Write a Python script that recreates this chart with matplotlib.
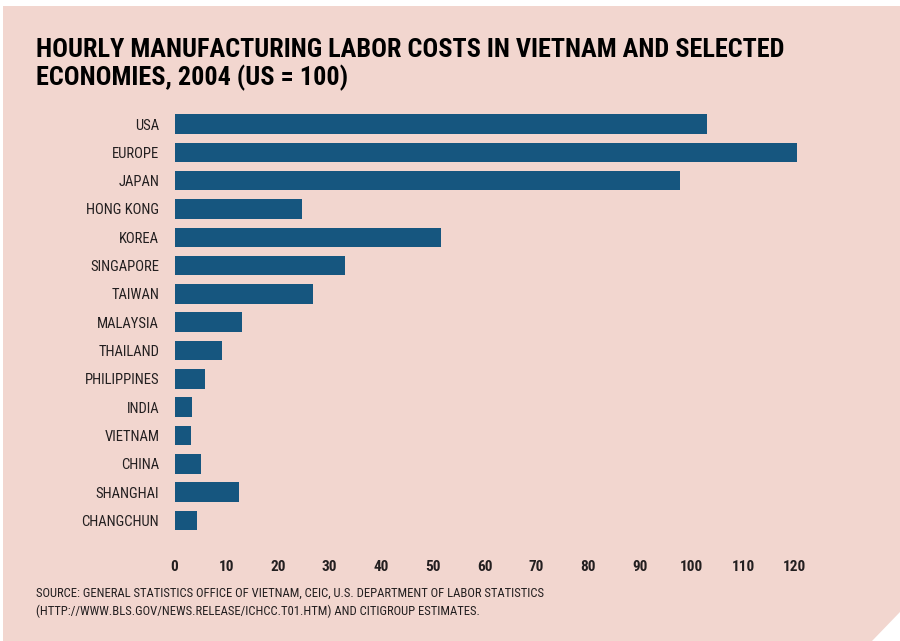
import matplotlib
matplotlib.use("Agg")
import matplotlib.pyplot as plt
from matplotlib.patches import Polygon
from matplotlib import font_manager

categories = ["USA", "EUROPE", "JAPAN", "HONG KONG", "KOREA", "SINGAPORE", "TAIWAN",
              "MALAYSIA", "THAILAND", "PHILIPPINES", "INDIA", "VIETNAM", "CHINA",
              "SHANGHAI", "CHANGCHUN"]
values = [103.0, 120.4, 97.8, 24.7, 51.5, 33.0, 26.8, 13.1, 9.2, 5.9, 3.4, 3.2, 5.1, 12.5, 4.3]
xticks = [0, 10, 20, 30, 40, 50, 60, 70, 80, 90, 100, 110, 120]

title_lines = ["HOURLY MANUFACTURING LABOR COSTS IN VIETNAM AND SELECTED",
               "ECONOMIES, 2004 (US = 100)"]
source_lines = ["SOURCE: GENERAL STATISTICS OFFICE OF VIETNAM, CEIC, U.S. DEPARTMENT OF LABOR STATISTICS",
                "(HTTP://WWW.BLS.GOV/NEWS.RELEASE/ICHCC.T01.HTM) AND CITIGROUP ESTIMATES."]

BG = "#f2d6cf"
BAR = "#16567f"
TXT = "#231f20"
W, H = 900, 641

# choose a narrow font if available
names = {f.name for f in font_manager.fontManager.ttflist}
stretches = {(f.name, f.stretch) for f in font_manager.fontManager.ttflist}
FONT = "Roboto"
STRETCH = "normal"
for cand in ["Liberation Sans Narrow", "Roboto Condensed", "Open Sans Condensed"]:
    if cand in names:
        FONT = cand
        break
else:
    if any(n == "DejaVu Sans" and s != "normal" and s != 500 for n, s in stretches):
        FONT = "DejaVu Sans"
        STRETCH = "condensed"

fig = plt.figure(figsize=(9, 6.41), dpi=100)
fig.patch.set_facecolor("white")

def fx(x):
    return x / W

def fy(y):
    return 1 - y / H

panel = Polygon([(fx(3), fy(6)), (fx(900), fy(6)), (fx(900), fy(612)), (fx(872), fy(641)),
                 (fx(3), fy(641))], closed=True, transform=fig.transFigure,
                facecolor=BG, edgecolor="none", zorder=-5)
fig.patches.append(panel)

left_px, right_px = 174.5, 174.5 + 125 * 5.17
top_px, bot_px = 124 - 14.15, 520.5 + 14.15
ax = fig.add_axes([fx(left_px), fy(bot_px), (right_px - left_px) / W, (bot_px - top_px) / H])
ax.set_facecolor("none")
pos = list(range(len(categories)))
ax.barh(pos, values, height=0.69, color=BAR)
ax.set_xlim(0, 125)
ax.set_ylim(len(categories) - 0.5, -0.5)
ax.set_yticks(pos)
ax.set_yticklabels(categories, fontfamily=FONT, fontstretch=STRETCH, fontsize=10.5, color=TXT)
ax.set_xticks(xticks)
ax.set_xticklabels([str(t) for t in xticks], fontfamily=FONT, fontstretch=STRETCH,
                   fontweight="bold", fontsize=11, color=TXT)
ax.tick_params(axis="y", length=0, pad=11)
ax.tick_params(axis="x", length=0, pad=18)
for s in ax.spines.values():
    s.set_visible(False)

renderer = fig.canvas.get_renderer()

def fit_text(x, y_base, s, target_w, weight, fs0, color):
    t = fig.text(fx(x), fy(y_base), s, fontfamily=FONT, fontstretch=STRETCH, fontweight=weight,
                 fontsize=fs0, color=color, va="baseline", ha="left")
    w = t.get_window_extent(renderer).width
    t.set_fontsize(fs0 * target_w / w)
    return t

t1 = fit_text(36, 57, title_lines[0], 751, "bold", 20, "black")
fs_title = t1.get_fontsize()
fig.text(fx(36), fy(85), title_lines[1], fontfamily=FONT, fontstretch=STRETCH, fontweight="bold",
         fontsize=fs_title, color="black", va="baseline", ha="left")

s1 = fit_text(36, 597, source_lines[0], 512, "normal", 9, TXT)
fig.text(fx(36), fy(615), source_lines[1], fontfamily=FONT, fontstretch=STRETCH,
         fontsize=s1.get_fontsize(), color=TXT, va="baseline", ha="left")

fig.savefig("out.png", dpi=100, facecolor=fig.get_facecolor())
